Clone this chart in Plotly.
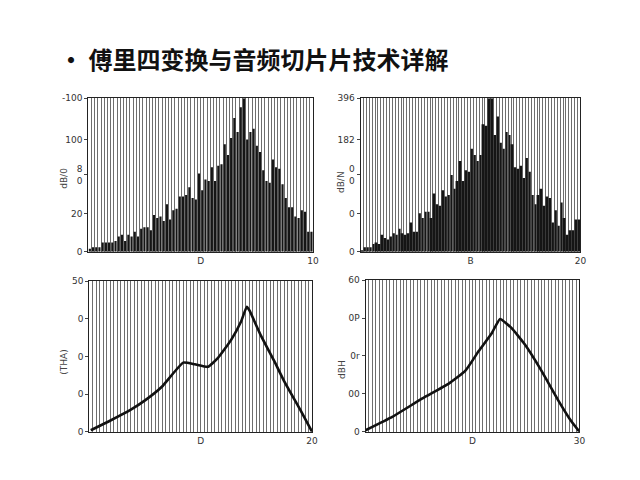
import plotly.graph_objects as go

title_text = "• 傅里四变换与音频切片片技术详解"

# Top-left spectrum (bar heights, % of axis)
tl_vals = [2, 3, 3, 3, 6, 6, 6, 6, 7, 10, 11, 7, 11, 10, 13, 10, 15, 16, 16, 14,
           24, 22, 23, 20, 31, 21, 27, 28, 36, 36, 37, 42, 35, 34, 51, 40, 47, 46,
           55, 46, 56, 57, 70, 63, 74, 87, 78, 94, 100, 73, 78, 80, 69, 65, 53, 46,
           45, 60, 55, 54, 44, 35, 29, 29, 23, 22, 27, 26, 13, 13]
# Top-right spectrum
tr_vals = [1, 3, 3, 3, 5, 6, 5, 11, 9, 8, 10, 12, 11, 15, 12, 11, 12, 19, 13, 13,
           25, 22, 26, 26, 22, 38, 31, 30, 40, 36, 37, 50, 41, 46, 59, 46, 53, 52,
           67, 63, 59, 63, 83, 82, 100, 100, 76, 88, 71, 67, 78, 76, 70, 55, 54, 56,
           48, 61, 52, 37, 31, 37, 41, 30, 36, 35, 19, 27, 17, 32, 22, 11, 14, 14,
           21, 21]

# Bottom-left envelope
bl_x = [0.07, 0.89, 1.85, 2.52, 3.26, 4.22, 4.74, 5.33, 5.78, 6.37, 6.81, 7.07,
        7.19, 7.70, 8.30, 8.74, 9.48, 10.0]
bl_y = [1, 7, 14.5, 21, 29.9, 45.9, 44.8, 43.1, 49, 61, 73, 83, 80.5, 64, 47,
        33.8, 14.3, 0]
# Bottom-right envelope
br_x = [0.0, 1.27, 2.66, 3.89, 4.67, 5.29, 5.90, 6.29, 6.83, 7.45, 8.22, 9.0,
        9.62, 10.0]
br_y = [1, 10, 22, 31.7, 40.3, 53.2, 65, 74.4, 68.3, 57.5, 40.3, 20.9, 6.9, 0]

tl_yticks = ["0", "20", "8<br>0", "100", "-100"]
tr_yticks = ["0", "0", "0<br>0", "182", "396"]
bl_yticks = ["0", "0", "0", "0", "50"]
br_yticks = ["0", "00", "0r", "0P", "60"]
tl_ypos = [0, 25, 50, 73, 100]
lin_ypos = [0, 25, 50, 75, 100]

tl_xticks = ["D", "10"]
tr_xticks = ["B", "20"]
bl_xticks = ["D", "20"]
br_xticks = ["D", "30"]

ytitles = ["dB/0", "dB/N", "(THA)", "dBH"]

fig = go.Figure()

fig.add_trace(go.Bar(x=list(range(len(tl_vals))), y=tl_vals, marker=dict(color="#151515", line=dict(width=0)),
                     xaxis="x", yaxis="y"))
fig.add_trace(go.Bar(x=list(range(len(tr_vals))), y=tr_vals, marker=dict(color="#151515", line=dict(width=0)),
                     xaxis="x2", yaxis="y2"))
fig.add_trace(go.Scatter(x=bl_x, y=bl_y, mode="lines", line=dict(color="#111", width=2.6, shape="spline", smoothing=0.4),
                         xaxis="x3", yaxis="y3"))
fig.add_trace(go.Scatter(x=br_x, y=br_y, mode="lines", line=dict(color="#111", width=2.6, shape="spline", smoothing=0.4),
                         xaxis="x4", yaxis="y4"))

font_tick = dict(family="DejaVu Sans", size=9, color="#333")
grid_col = "#6e6e6e"


def xax(domain, rng, tickvals, ticktext, minor_dtick, minor_tick0, anchor):
    return dict(domain=domain, range=rng, tickmode="array", tickvals=tickvals, ticktext=ticktext,
                showgrid=False, zeroline=False, showline=True, linecolor="#222", linewidth=1, mirror=True,
                ticks="", tickfont=font_tick, anchor=anchor, fixedrange=True,
                minor=dict(showgrid=True, dtick=minor_dtick, tick0=minor_tick0, gridcolor=grid_col, gridwidth=1))


def yax(domain, ticktext, tickvals, anchor):
    return dict(domain=domain, range=[0, 100], tickmode="array", tickvals=tickvals, ticktext=ticktext,
                showgrid=False, zeroline=False, showline=True, linecolor="#222", linewidth=1, mirror=True,
                ticks="outside", ticklen=3, tickcolor="#444", tickfont=font_tick, anchor=anchor)


n1 = len(tl_vals)
n2 = len(tr_vals)
fig.update_layout(
    width=624, height=464, margin=dict(l=0, r=0, t=0, b=0),
    paper_bgcolor="white", plot_bgcolor="white", showlegend=False, bargap=0.32,
    xaxis=xax([0.1298, 0.4936], [-0.5, n1 - 0.5], [(n1 - 1) / 2, n1 - 0.5], tl_xticks, 1, -0.5, "y"),
    yaxis=yax([0.4741, 0.8125], tl_yticks, tl_ypos, "x"),
    xaxis2=xax([0.5705, 0.9263], [-0.5, n2 - 0.5], [(n2 - 1) / 2, n2 - 0.5], tr_xticks, 1, -0.5, "y2"),
    yaxis2=yax([0.4741, 0.8125], tr_yticks, tl_ypos, "x2"),
    xaxis3=xax([0.1314, 0.4920], [0, 10], [5, 10], bl_xticks, 10 / 64, 0, "y3"),
    yaxis3=yax([0.0776, 0.4095], bl_yticks, lin_ypos, "x3"),
    xaxis4=xax([0.5785, 0.9247], [0, 10], [5, 10], br_xticks, 10 / 62, 0, "y4"),
    yaxis4=yax([0.0776, 0.4116], br_yticks, lin_ypos, "x4"),
)

fig.add_annotation(text="<b>" + title_text + "</b>", xref="paper", yref="paper", x=0.08, y=0.8987,
                   xanchor="left", yanchor="middle", showarrow=False,
                   font=dict(family="Noto Sans CJK SC", size=24, color="#111"))

title_pos = [(0.0913, 0.6358), (0.5385, 0.6272), (0.0913, 0.2306), (0.5401, 0.2155)]
for (px, py), t in zip(title_pos, ytitles):
    fig.add_annotation(text=t, xref="paper", yref="paper", x=px, y=py, textangle=-90,
                       xanchor="center", yanchor="middle", showarrow=False,
                       font=dict(family="DejaVu Sans", size=9, color="#444"))

fig.write_html("out.html")
